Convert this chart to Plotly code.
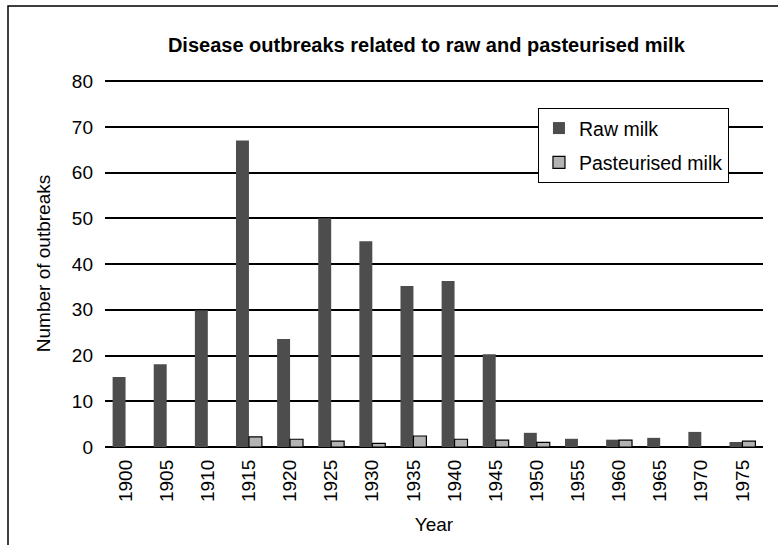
import plotly.graph_objects as go

years = ["1900", "1905", "1910", "1915", "1920", "1925", "1930", "1935",
         "1940", "1945", "1950", "1955", "1960", "1965", "1970", "1975"]
raw_milk = [15.3, 18.1, 29.9, 67.0, 23.6, 50.0, 45.0, 35.2,
            36.3, 20.3, 3.1, 1.8, 1.6, 2.0, 3.3, 1.1]
pasteurised_milk = [0, 0, 0, 2.2, 1.7, 1.3, 0.8, 2.4,
                    1.7, 1.5, 1.0, 0, 1.5, 0, 0, 1.3]
y_ticks = [0, 10, 20, 30, 40, 50, 60, 70, 80]

font_family = "Liberation Sans, Arial, sans-serif"

fig = go.Figure()
fig.add_trace(go.Bar(
    x=years, y=raw_milk, name="Raw milk", legendgroup="raw",
    marker=dict(color="#4d4d4d", line=dict(width=0)),
))
fig.add_trace(go.Bar(
    x=years, y=pasteurised_milk, name="Pasteurised milk", legendgroup="past",
    marker=dict(color="#b3b3b3", line=dict(color="black", width=1.2)),
))

fig.update_layout(
    width=778, height=545,
    barmode="group", bargap=0.37, bargroupgap=0,
    plot_bgcolor="white", paper_bgcolor="white",
    margin=dict(l=105, r=15, t=80, b=98),
    font=dict(family=font_family, size=19, color="black"),
    title=dict(text="<b>Disease outbreaks related to raw and pasteurised milk</b>",
               x=0.548, xanchor="center", y=1 - 45 / 545, yanchor="middle",
               font=dict(size=20, family=font_family)),
    showlegend=True,
    legend=dict(x=0.658, y=0.924, xanchor="left", yanchor="top",
                bordercolor="black", borderwidth=1, bgcolor="white",
                font=dict(size=19.5), traceorder="grouped", tracegroupgap=6,
                itemwidth=30),
    xaxis=dict(type="category", tickangle=-90, showgrid=False,
               showline=False, ticks="", tickfont=dict(size=19),
               ticklabelstandoff=8,
               title=dict(text="Year", font=dict(size=19), standoff=16)),
    yaxis=dict(range=[0, 80.25], tickvals=y_ticks, showgrid=True,
               gridcolor="black", gridwidth=1.5, zeroline=True,
               zerolinecolor="black", zerolinewidth=2, showline=False,
               ticks="", ticklabelstandoff=11, tickfont=dict(size=19),
               title=dict(text="Number of outbreaks", font=dict(size=19), standoff=16)),
)

# outer frame (cropped box)
fig.add_shape(type="rect", xref="paper", yref="paper",
              x0=(8 - 105) / 658, x1=(800 - 105) / 658,
              y0=-0.5, y1=(447 - 6) / 367,
              line=dict(color="black", width=1.5), fillcolor="rgba(0,0,0,0)",
              layer="below")

fig.write_html("out.html", config={"displayModeBar": False},
               post_script="document.body.style.margin='0';document.body.style.overflow='hidden';")
